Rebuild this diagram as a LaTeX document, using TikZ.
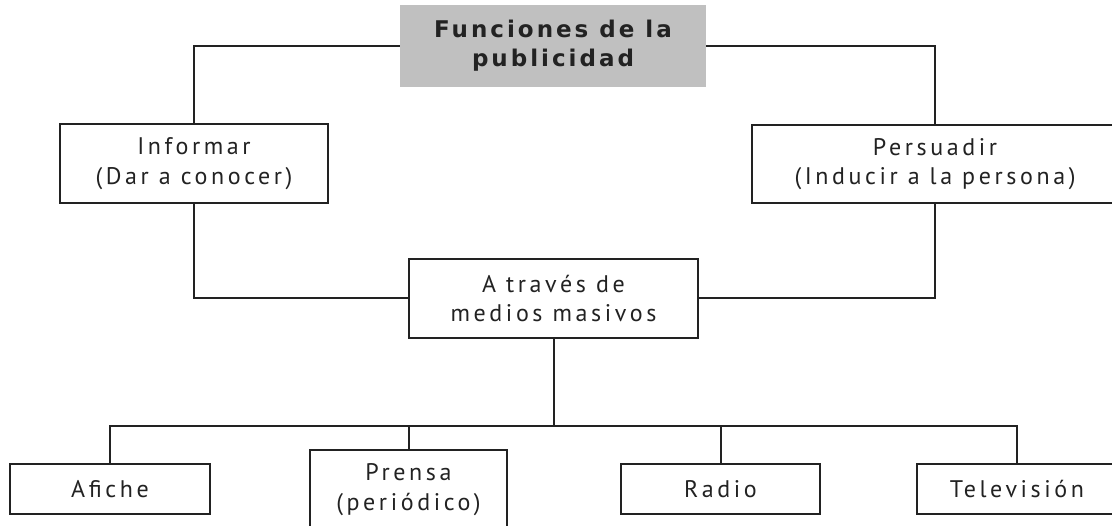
\documentclass[tikz,border=0pt]{standalone}
\usepackage{fontspec}
\newfontfamily\bodyfont[LetterSpace=15]{PT Sans}
\newfontfamily\titlefont[LetterSpace=13]{DejaVu Sans}
\definecolor{ink}{HTML}{222222}
\definecolor{titlegray}{HTML}{C0C0C0}
\begin{document}
\begin{tikzpicture}[x=1pt,y=-1pt,
  box/.style={draw=ink,line width=2.2pt,fill=white,rectangle,inner sep=0pt,align=center,text=ink,
    font=\bodyfont\fontsize{24}{29.5}\selectfont},
  titlebox/.style={fill=titlegray,rectangle,inner sep=0pt,align=center,text=ink,
    font=\titlefont\bfseries\fontsize{23}{29}\selectfont},
  link/.style={draw=ink,line width=2pt}]
\useasboundingbox (0,0) rectangle (1112,526);
\clip (0,0) rectangle (1112,526);
\node[titlebox,minimum width=306pt,minimum height=82pt] (title) at (553,46) {Funciones de la\\publicidad};
\node[box,minimum width=268pt,minimum height=79pt] (inf) at (194,163.5) {Informar\\(Dar a conocer)};
\node[box,minimum width=366pt,minimum height=78pt] (per) at (935,164) {Persuadir\\(Inducir a la persona)};
\node[box,minimum width=289pt,minimum height=79pt] (med) at (553.5,298.5) {A través de\\medios masivos};
\node[box,minimum width=200pt,minimum height=50pt] (afi) at (110,489) {Afiche};
\node[box,minimum width=197pt,minimum height=79pt] (pre) at (408.5,489.5) {Prensa\\(periódico)};
\node[box,minimum width=199pt,minimum height=50pt] (rad) at (720.5,489) {Radio};
\node[box,minimum width=200pt,minimum height=50pt] (tel) at (1017,489) {Televisión};
\coordinate (bus) at (553.5,426);
\draw[link] (title.west) -| (inf.north);
\draw[link] (title.east) -| (per.north);
\draw[link] (inf.south) |- (med.west);
\draw[link] (per.south) |- (med.east);
\draw[link] (med.south) -- (bus);
\draw[link] (afi.north) |- (bus) -| (tel.north);
\draw[link] (pre.north) -- (pre.north |- bus);
\draw[link] (rad.north) -- (rad.north |- bus);
\end{tikzpicture}
\end{document}
